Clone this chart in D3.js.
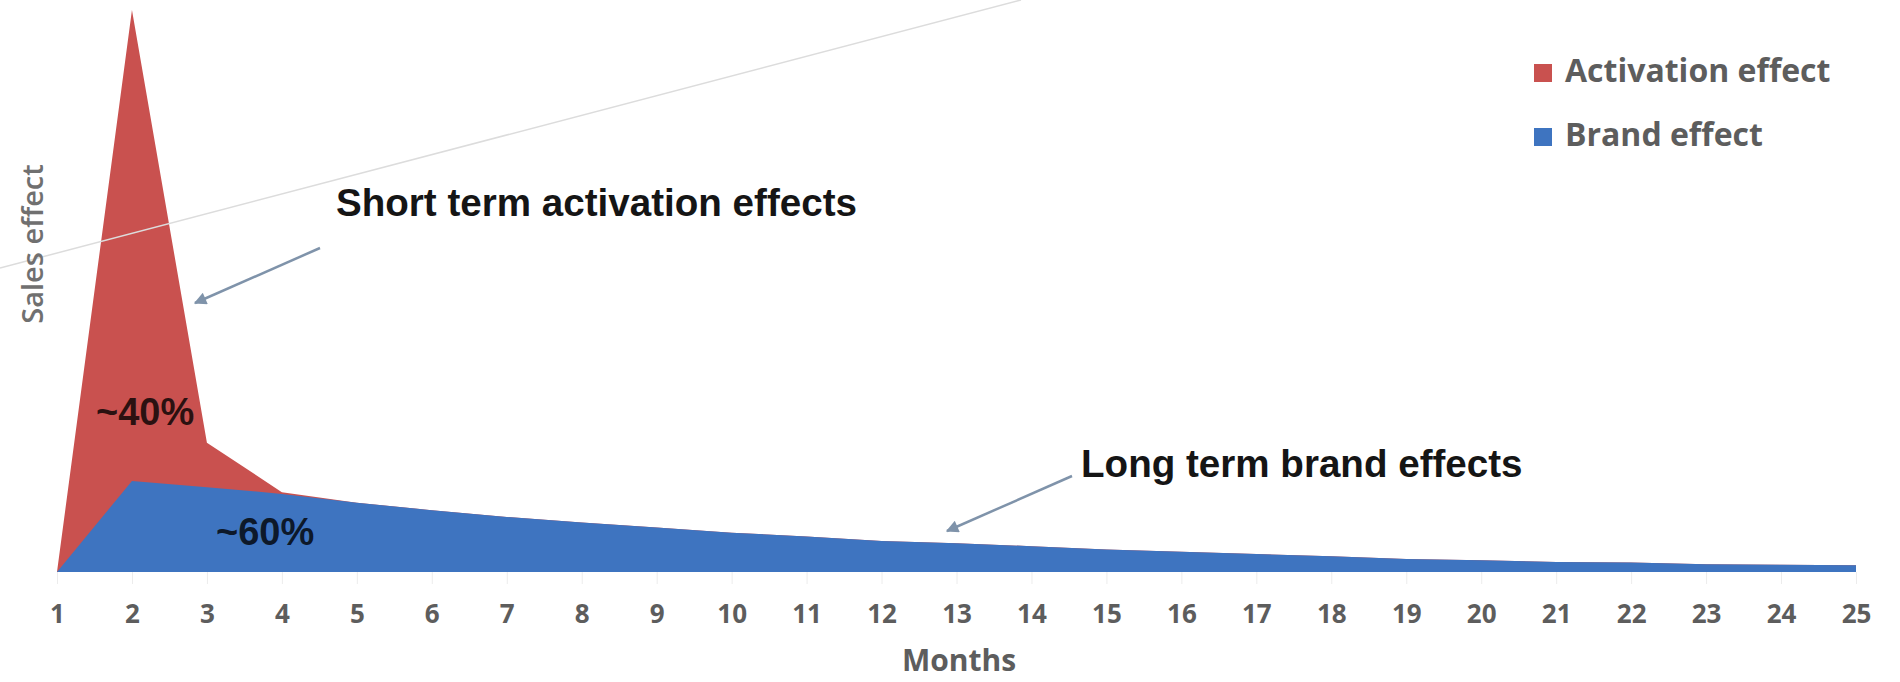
<!DOCTYPE html>
<html>
<head>
<meta charset="utf-8">
<script src="https://cdn.jsdelivr.net/npm/d3@7"></script>
<style>
  body { margin: 0; background: #fff; }
  svg { display: block; }
</style>
</head>
<body>
<svg id="chart" width="1900" height="682"></svg>
<script>
const svg = d3.select("#chart"),
    width = +svg.attr("width"),
    height = +svg.attr("height");

// months on the x axis
const months = d3.range(1, 26);

// sales effect, peak of activation = 100
const activation = [0, 100, 23.0, 14.2, 12.3, 11.0, 9.8, 8.8, 7.9, 7.0, 6.3, 5.5, 5.1,
    4.6, 4.0, 3.6, 3.2, 2.8, 2.3, 2.1, 1.8, 1.7, 1.4, 1.3, 1.2];
const brand = [0, 16.2, 15.1, 13.9, 12.3, 11.0, 9.8, 8.8, 7.9, 7.0, 6.3, 5.5, 5.1,
    4.6, 4.0, 3.6, 3.2, 2.8, 2.3, 2.1, 1.8, 1.7, 1.4, 1.3, 1.2];

const series_names = ["Activation effect", "Brand effect"];
const series_colors = ["#c9514f", "#3e74c0"];

const x = d3.scaleLinear().domain([1, 25]).range([57, 1856]);
const y = d3.scaleLinear().domain([0, 100]).range([572, 10]);

const area = d3.area()
    .x(function(d) { return x(d.month); })
    .y0(y(0))
    .y1(function(d) { return y(d.value); });

const data_act = months.map(function(m, i) { return {month: m, value: activation[i]}; });
const data_brand = months.map(function(m, i) { return {month: m, value: brand[i]}; });

// faint tick marks + month labels
const xAxis = d3.axisBottom(x)
    .tickValues(months)
    .tickFormat(d3.format("d"))
    .tickSize(12)
    .tickPadding(21);

const gx = svg.append("g")
    .attr("transform", "translate(0," + y(0) + ")")
    .call(xAxis);
gx.select(".domain").remove();
gx.selectAll(".tick line").attr("stroke", "#ececec");
gx.selectAll(".tick text")
    .attr("fill", "#5d5d5d")
    .style("font-family", "'Open Sans', sans-serif")
    .style("font-weight", 700)
    .style("font-size", "26px");

svg.append("path")
    .datum(data_act)
    .attr("d", area)
    .attr("fill", series_colors[0]);

svg.append("path")
    .datum(data_brand)
    .attr("d", area)
    .attr("fill", series_colors[1]);

// thin stray line across the top left
svg.append("line")
    .attr("x1", 0).attr("y1", 268)
    .attr("x2", 1021).attr("y2", 0)
    .attr("stroke", "#dcdcdc")
    .attr("stroke-width", 1.5);

// arrows
svg.append("defs").append("marker")
    .attr("id", "head")
    .attr("viewBox", "0 0 10 10")
    .attr("refX", 9).attr("refY", 5)
    .attr("markerWidth", 6).attr("markerHeight", 5)
    .attr("markerUnits", "strokeWidth")
    .attr("orient", "auto")
    .append("path")
    .attr("d", "M0,0 L10,5 L0,10 z")
    .attr("fill", "#7f93aa");

const arrows = [[320, 248, 195, 303], [1072, 476, 947, 531]];
svg.selectAll(".arrow")
    .data(arrows)
    .enter()
    .append("line")
    .attr("class", "arrow")
    .attr("x1", function(d) { return d[0]; })
    .attr("y1", function(d) { return d[1]; })
    .attr("x2", function(d) { return d[2]; })
    .attr("y2", function(d) { return d[3]; })
    .attr("stroke", "#7f93aa")
    .attr("stroke-width", 2.5)
    .attr("marker-end", "url(#head)");

// annotations
svg.append("text")
    .attr("x", 336).attr("y", 216)
    .text("Short term activation effects")
    .style("font-family", "'Liberation Sans', Arial, sans-serif")
    .style("font-weight", 700)
    .style("font-size", "38.6px")
    .attr("fill", "#151515");

svg.append("text")
    .attr("x", 1081).attr("y", 477)
    .text("Long term brand effects")
    .style("font-family", "'Liberation Sans', Arial, sans-serif")
    .style("font-weight", 700)
    .style("font-size", "38.6px")
    .attr("fill", "#151515");

svg.append("text")
    .attr("x", 96).attr("y", 425)
    .text("~40%")
    .style("font-family", "'Liberation Sans', Arial, sans-serif")
    .style("font-weight", 700)
    .style("font-size", "38px")
    .attr("fill", "#000")
    .attr("fill-opacity", 0.78);

svg.append("text")
    .attr("x", 216).attr("y", 545)
    .text("~60%")
    .style("font-family", "'Liberation Sans', Arial, sans-serif")
    .style("font-weight", 700)
    .style("font-size", "38px")
    .attr("fill", "#000")
    .attr("fill-opacity", 0.8);

// axis titles
svg.append("text")
    .attr("x", 959).attr("y", 671)
    .attr("text-anchor", "middle")
    .text("Months")
    .attr("fill", "#5d5d5d")
    .style("font-family", "'Open Sans', sans-serif")
    .style("font-weight", 700)
    .style("font-size", "30px");

svg.append("text")
    .attr("transform", "translate(43,244) rotate(-90)")
    .attr("text-anchor", "middle")
    .text("Sales effect")
    .attr("fill", "#707070")
    .style("font-family", "'Open Sans', sans-serif")
    .style("font-weight", 600)
    .style("font-size", "29px");

// legend
const legend = svg.selectAll(".legend")
    .data(series_names)
    .enter()
    .append("g")
    .attr("class", "legend")
    .attr("transform", function(d, i) { return "translate(1534," + (64 + i * 64) + ")"; });

legend.append("rect")
    .attr("width", 18).attr("height", 18)
    .attr("fill", function(d, i) { return series_colors[i]; });

legend.append("text")
    .attr("x", 31).attr("y", 18)
    .text(function(d) { return d; })
    .attr("fill", "#5d5d5d")
    .style("font-family", "'Open Sans', sans-serif")
    .style("font-weight", 700)
    .style("font-size", "32px");
</script>
</body>
</html>
